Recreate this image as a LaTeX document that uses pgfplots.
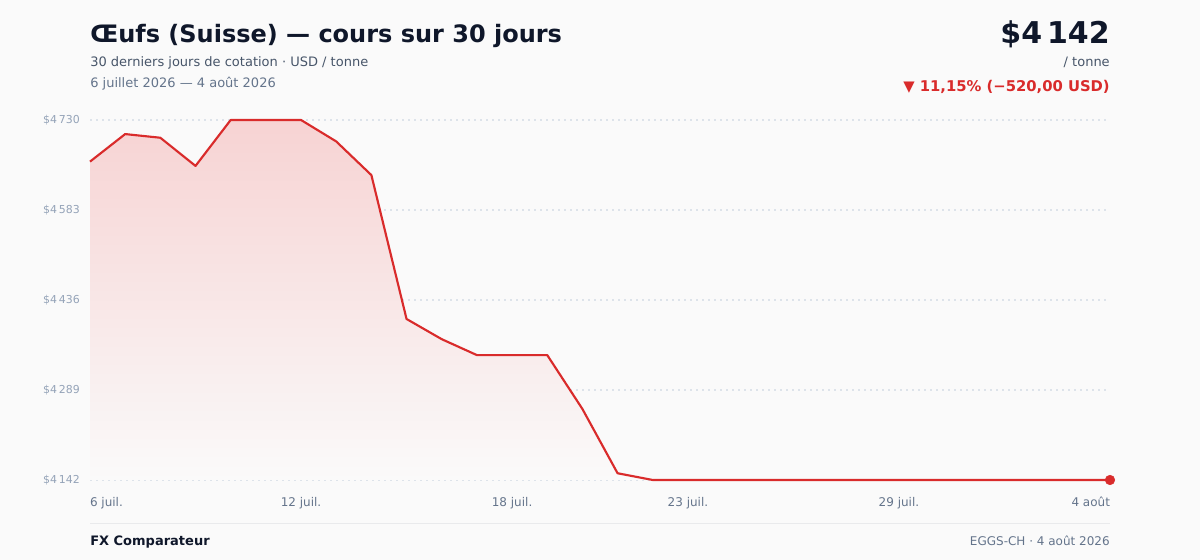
\documentclass[border=0pt]{standalone}
\usepackage{pgfplots}
\pgfplotsset{compat=1.18}
\usepackage{fontspec}
\setmainfont{DejaVu Sans}
\definecolor{bg}{HTML}{FAFAFA}
\definecolor{titlec}{HTML}{0F172A}
\definecolor{subc}{HTML}{475569}
\definecolor{datec}{HTML}{64748B}
\definecolor{ytc}{HTML}{94A3B8}
\definecolor{redc}{HTML}{D92B2B}
\definecolor{gridc}{HTML}{DDE3EA}
\definecolor{footl}{HTML}{E9EAEC}
\definecolor{filltop}{HTML}{F7D3D3}
\begin{document}
\begin{tikzpicture}
\path[fill=bg] (0,0) rectangle (900pt,420pt);
% header
\node[anchor=base west, inner sep=0pt, text=titlec] at (67.5pt,{(560-43)*0.75pt}) {\fontsize{18}{20}\selectfont\bfseries Œufs (Suisse) — cours sur 30 jours};
\node[anchor=base west, inner sep=0pt, text=subc] at (67.5pt,{(560-66.5)*0.75pt}) {\fontsize{9.75}{11}\selectfont 30 derniers jours de cotation · USD / tonne};
\node[anchor=base west, inner sep=0pt, text=datec] at (67.5pt,{(560-88)*0.75pt}) {\fontsize{9.75}{11}\selectfont 6 juillet 2026 — 4 août 2026};
\node[anchor=base east, inner sep=0pt, text=titlec] at (832.5pt,{(560-43.5)*0.75pt}) {\fontsize{22.5}{24}\selectfont\bfseries \$4\,142};
\node[anchor=base east, inner sep=0pt, text=subc] at (832.5pt,{(560-66.5)*0.75pt}) {\fontsize{9.75}{11}\selectfont / tonne};
\node[anchor=base east, inner sep=0pt, text=redc] at (832.5pt,{(560-92)*0.75pt}) {\fontsize{11.1}{12}\selectfont\bfseries ▼ 11,15\% (−520,00 USD)};
% footer
\draw[footl, line width=1.2pt] (67.5pt,{(560-523.5)*0.75pt}) -- (832.5pt,{(560-523.5)*0.75pt});
\node[anchor=base west, inner sep=0pt, text=titlec] at (67.5pt,{(560-546)*0.75pt}) {\fontsize{9.75}{11}\selectfont\bfseries FX Comparateur};
\node[anchor=base east, inner sep=0pt, text=datec] at (832.5pt,{(560-546)*0.75pt}) {\fontsize{9}{11}\selectfont EGGS-CH · 4 août 2026};
\begin{axis}[
  at={(67.5pt,60pt)}, anchor=south west,
  scale only axis, width=765pt, height=270pt,
  xmin=0, xmax=29, ymin=4142, ymax=4730,
  clip=false,
  axis line style={draw=none},
  major tick length=0pt,
  xtick={0,6,12,17,23,29},
  xticklabels={\makebox[0pt][l]{6 juil.},12 juil.,18 juil.,23 juil.,29 juil.,\makebox[0pt][r]{4 août}},
  xticklabel style={font=\fontsize{9}{10}\selectfont, text=datec, anchor=north, inner sep=0pt, yshift=-12.5pt},
  ytick={4142,4289,4436,4583,4730},
  yticklabels={\$4\,142,\$4\,289,\$4\,436,\$4\,583,\$4\,730},
  yticklabel style={font=\fontsize{8.2}{9}\selectfont, text=ytc, anchor=east, inner sep=0pt, xshift=-7.5pt},
  ymajorgrids,
  grid style={gridc, line width=0.8pt, dash pattern=on 1.5pt off 3pt},
]
\addplot[draw=none, top color=filltop, bottom color=bg] table {
x y
0 4662
1 4707
2 4701
3 4655
4 4730
5 4730
6 4730
7 4695
8 4640
9 4405
10 4372
11 4346
12 4346
13 4346
14 4258
15 4153
16 4142
17 4142
18 4142
19 4142
20 4142
21 4142
22 4142
23 4142
24 4142
25 4142
26 4142
27 4142
28 4142
29 4142
} \closedcycle;
\addplot[redc, line width=1.6pt, line join=round] table {
x y
0 4662
1 4707
2 4701
3 4655
4 4730
5 4730
6 4730
7 4695
8 4640
9 4405
10 4372
11 4346
12 4346
13 4346
14 4258
15 4153
16 4142
17 4142
18 4142
19 4142
20 4142
21 4142
22 4142
23 4142
24 4142
25 4142
26 4142
27 4142
28 4142
29 4142
};
\addplot[only marks, mark=*, mark size=3.6pt, color=redc] coordinates {(29,4142)};
\end{axis}
\end{tikzpicture}
\end{document}
